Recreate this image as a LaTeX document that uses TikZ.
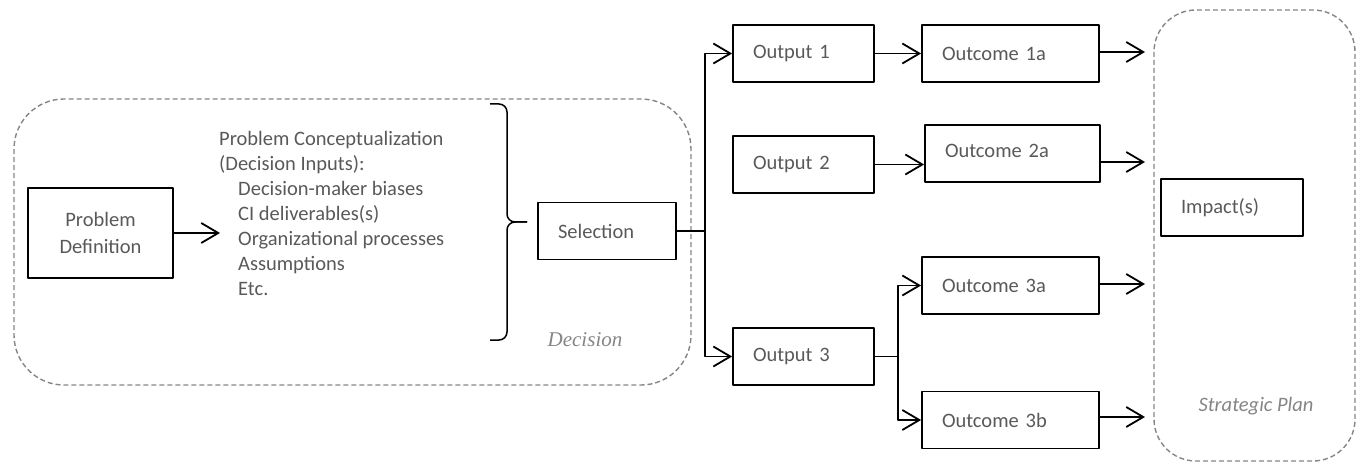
\documentclass[tikz,border=0pt]{standalone}
\usepackage{fontspec}
\setmainfont{Carlito}
\newfontfamily\serifit{Liberation Serif}
\usetikzlibrary{arrows.meta}
\definecolor{txtgray}{HTML}{595959}
\definecolor{dashgray}{HTML}{858585}
\begin{document}
\begin{tikzpicture}[x=1pt, y=-1pt, line join=round, >={Straight Barb[length=17pt,width=20pt]},
	font=\fontsize{20.5}{25}\selectfont,
	box/.style={draw, line width=1.8pt, text=txtgray, align=left, inner xsep=20pt, inner ysep=0pt, minimum height=57pt},
	link/.style={line width=1.8pt},
	bracket/.style={line width=1.5pt, rounded corners=8pt},
	zone/.style={draw=dashgray, line width=1.4pt, dash pattern=on 5pt off 3pt},
	tag/.style={text=dashgray, inner sep=0pt}]
	\useasboundingbox (0,0) rectangle (1356,462);
	% dashed areas
	\draw[zone, rounded corners=50pt] (14,99) rectangle (691,385);
	\draw[zone, rounded corners=42pt] (1154,10) rectangle (1355,461);
	\node[tag, font=\fontsize{21}{25}\serifit\itshape] (declbl) at (585,340) {Decision};
	\node[tag, font=\fontsize{20.5}{25}\selectfont\itshape] (spl) at (1256,406) {Strategic Plan};
	% decision part
	\node[draw, line width=1.8pt, text=txtgray, align=center, minimum width=145pt, minimum height=90pt, font=\fontsize{20.5}{27}\selectfont] (pdef) at (100.5,233) {Problem\\Definition};
	\node[text=txtgray, align=left, anchor=west, inner sep=0pt] (concept) at (219,213) {Problem Conceptualization\\(Decision Inputs):\\
		\hspace*{19pt}Decision-maker biases\\\hspace*{19pt}CI deliverables(s)\\\hspace*{19pt}Organizational processes\\
		\hspace*{19pt}Assumptions\\\hspace*{19pt}Etc.};
	\coordinate (ctip) at (220,233);
	\draw[link,->] (pdef) -- (ctip);
	\draw[bracket] (490,104) -- (507,104) -- (507,222) -- (527,222);
	\draw[bracket] (490,340) -- (507,340) -- (507,222) -- (527,222);
	\node[box, text width=98pt] (sel) at (607,231) {Selection};
	% outputs
	\node[box, text width=101pt] (out1) at (803.5,53.5) {Output 1};
	\node[box, text width=101pt] (out2) at (803.5,164.5) {Output 2};
	\node[box, text width=101pt] (out3) at (803.5,356.5) {Output 3};
	\coordinate (j1) at (705,231);
	\draw[link] (sel) -- (j1);
	\draw[link,->] (j1) |- (out1);
	\draw[link,->] (j1) |- (out3);
	% outcomes
	\node[box, text width=137pt] (oc1a) at (1010.5,53.5) {Outcome 1a};
	\node[box, text width=135pt] (oc2a) at (1012.5,153.5) {\raisebox{5pt}{Outcome 2a}};
	\node[box, text width=137pt] (oc3a) at (1010.5,285.5) {Outcome 3a};
	\node[box, text width=137pt] (oc3b) at (1010.5,420) {Outcome 3b};
	\draw[link,->] (out1) -- (oc1a);
	\draw[link,->] (out2) -- (out2 -| oc2a.west);
	\coordinate (j2) at (898,356.5);
	\draw[link] (out3) -- (j2);
	\draw[link,->] (j2) |- (oc3a);
	\draw[link,->] (j2) |- (oc3b);
	% impacts
	\node[box, text width=102pt] (imp) at (1232,207.5) {Impact(s)};
	\coordinate (t1) at (1145,52);
	\coordinate (t2) at (1145,162);
	\coordinate (t3) at (1145,284);
	\coordinate (t4) at (1145,417);
	\draw[link,->] (oc1a.east |- t1) -- (t1);
	\draw[link,->] ([xshift=-2pt]oc2a.east |- t2) -- (t2);
	\draw[link,->] (oc3a.east |- t3) -- (t3);
	\draw[link,->] (oc3b.east |- t4) -- (t4);
\end{tikzpicture}
\end{document}
